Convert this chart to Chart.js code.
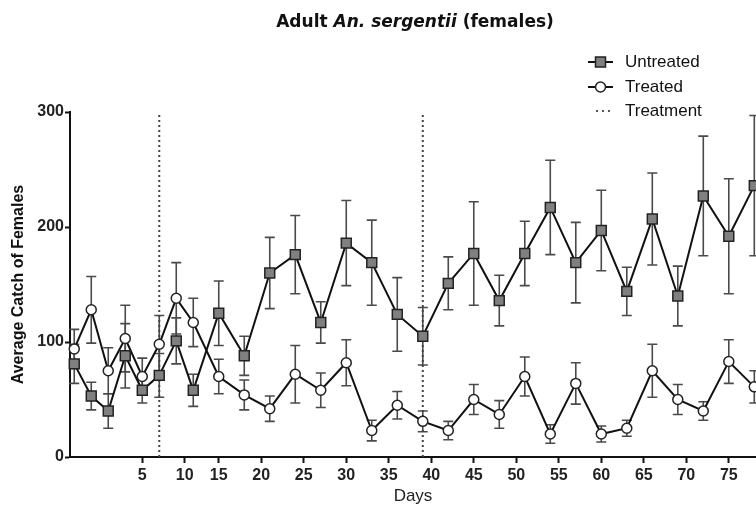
<!DOCTYPE html>
<html lang="en">
  <head>
    <meta charset="UTF-8" />
    <title>Adult An. sergentii (females)</title>
    <script src="https://cdn.jsdelivr.net/npm/chart.js@4.4.0/dist/chart.umd.min.js"></script>
    <style>
      body {
        margin: 0;
        background: #fff;
      }
      #wrap {
        width: 756px;
        height: 508px;
      }
    </style>
  </head>
  <body>
    <div id="wrap">
      <canvas id="myChart" width="756" height="508"></canvas>
    </div>

    <script>
      // sampling days
      const days = [-2, 0, 2, 4, 6, 8, 10, 12, 15, 18, 21, 24, 27, 30, 33, 36, 39, 42, 45, 48, 51, 54, 57, 60, 63, 66, 69, 72, 75, 78];
      // mean catch +/- error
      const untreated = [81, 53, 40, 88, 58, 71, 101, 58, 125, 88, 160, 176, 117, 186, 169, 124, 105, 151, 177, 136, 177, 217, 169, 197, 144, 207, 140, 227, 192, 236];
      const untreatedErr = [17, 12, 15, 28, 11, 19, 20, 14, 28, 17, 31, 34, 18, 37, 37, 32, 25, 23, 45, 22, 28, 41, 35, 35, 21, 40, 26, 52, 50, 61];
      const treated = [94, 128, 75, 103, 70, 98, 138, 117, 70, 54, 42, 72, 58, 82, 23, 45, 31, 23, 50, 37, 70, 20, 64, 20, 25, 75, 50, 40, 83, 61];
      const treatedErr = [17, 29, 20, 29, 16, 25, 31, 21, 15, 13, 11, 25, 15, 20, 9, 12, 9, 8, 13, 12, 17, 8, 18, 7, 7, 23, 13, 8, 19, 14];
      // treatment applied on these days
      const treatmentDays = [8, 39];
      // x axis ticks as printed (first two sit a day late in the original)
      const xTickDays = [6, 11, 15, 20, 25, 30, 35, 40, 45, 50, 55, 60, 65, 70, 75];
      const xTickLabels = ["5", "10", "15", "20", "25", "30", "35", "40", "45", "50", "55", "60", "65", "70", "75"];
      const yTicks = [0, 100, 200, 300];

      const toPoints = (vals) => days.map((d, i) => ({ x: d, y: vals[i] }));

      const treatmentData = [];
      treatmentDays.forEach((d, i) => {
        if (i > 0) treatmentData.push({ x: (d + treatmentDays[i - 1]) / 2, y: null });
        treatmentData.push({ x: d, y: yTicks[0] });
        treatmentData.push({ x: d, y: yTicks[yTicks.length - 1] });
      });

      const errorBars = {
        id: "errorBars",
        beforeDatasetsDraw(chart) {
          const ctx = chart.ctx;
          const xs = chart.scales.x;
          const ys = chart.scales.y;
          const sets = [
            [untreated, untreatedErr],
            [treated, treatedErr],
          ];
          ctx.save();
          ctx.strokeStyle = "#4a4a4a";
          ctx.lineWidth = 1.6;
          sets.forEach(([vals, errs]) => {
            vals.forEach((v, i) => {
              const x = xs.getPixelForValue(days[i]);
              const top = ys.getPixelForValue(v + errs[i]);
              const bot = ys.getPixelForValue(v - errs[i]);
              ctx.beginPath();
              ctx.moveTo(x, top);
              ctx.lineTo(x, bot);
              ctx.moveTo(x - 5, top);
              ctx.lineTo(x + 5, top);
              ctx.moveTo(x - 5, bot);
              ctx.lineTo(x + 5, bot);
              ctx.stroke();
            });
          });
          ctx.restore();
        },
      };

      const titleAndLegend = {
        id: "titleAndLegend",
        afterDraw(chart) {
          const ctx = chart.ctx;
          ctx.save();
          // title with italic species name
          const parts = [
            ["Adult ", "bold 17px 'DejaVu Sans'"],
            ["An. sergentii", "italic bold 17px 'DejaVu Sans'"],
            [" (females)", "bold 17px 'DejaVu Sans'"],
          ];
          let total = 0;
          parts.forEach(([t, f]) => {
            ctx.font = f;
            total += ctx.measureText(t).width;
          });
          let x = 415 - total / 2;
          ctx.fillStyle = "#111";
          ctx.textBaseline = "middle";
          parts.forEach(([t, f]) => {
            ctx.font = f;
            ctx.fillText(t, x, 23);
            x += ctx.measureText(t).width;
          });

          // legend
          const items = chart.data.datasets;
          const rows = [62, 87, 111];
          ctx.font = "17px 'Liberation Sans', Arial, sans-serif";
          items.forEach((ds, i) => {
            const y = rows[i];
            ctx.strokeStyle = "#111";
            ctx.lineWidth = 2;
            if (i === 2) {
              ctx.setLineDash([2, 4]);
              ctx.strokeStyle = "#555";
              ctx.beginPath();
              ctx.moveTo(596, y);
              ctx.lineTo(610, y);
              ctx.stroke();
              ctx.setLineDash([]);
            } else {
              ctx.beginPath();
              ctx.moveTo(588, y);
              ctx.lineTo(613, y);
              ctx.stroke();
              ctx.lineWidth = 1.5;
              ctx.strokeStyle = "#222";
              if (i === 0) {
                ctx.fillStyle = "#808080";
                ctx.fillRect(595.5, y - 5, 10, 10);
                ctx.strokeRect(595.5, y - 5, 10, 10);
              } else {
                ctx.fillStyle = "#fff";
                ctx.beginPath();
                ctx.arc(600.5, y, 5, 0, Math.PI * 2);
                ctx.fill();
                ctx.stroke();
              }
            }
            ctx.fillStyle = "#111";
            ctx.textBaseline = "middle";
            ctx.fillText(ds.label, 625, y);
          });
          ctx.restore();
        },
      };

      const ctx = document.getElementById("myChart").getContext("2d");
      new Chart(ctx, {
        type: "line",
        data: {
          datasets: [
            {
              label: "Untreated",
              data: toPoints(untreated),
              borderColor: "#111",
              borderWidth: 2,
              pointStyle: "rect",
              pointRadius: 7,
              pointBackgroundColor: "#808080",
              pointBorderColor: "#222",
              pointBorderWidth: 1.5,
              tension: 0,
              clip: false,
            },
            {
              label: "Treated",
              data: toPoints(treated),
              borderColor: "#111",
              borderWidth: 2,
              pointStyle: "circle",
              pointRadius: 5,
              pointBackgroundColor: "#fff",
              pointBorderColor: "#222",
              pointBorderWidth: 1.5,
              tension: 0,
              clip: false,
            },
            {
              label: "Treatment",
              data: treatmentData,
              borderColor: "#444",
              borderWidth: 2,
              borderDash: [2, 3],
              pointRadius: 0,
              spanGaps: false,
            },
          ],
        },
        options: {
          responsive: false,
          animation: false,
          layout: {
            autoPadding: false,
            padding: { top: 112, left: 0, right: 0, bottom: 0 },
          },
          plugins: {
            legend: { display: false },
            title: { display: false },
            tooltip: { enabled: false },
          },
          scales: {
            x: {
              type: "linear",
              min: -2.5,
              max: 78.2,
              afterBuildTicks: (axis) => {
                axis.ticks = xTickDays.map((v) => ({ value: v }));
              },
              afterFit: (scale) => {
                scale.height = 51;
              },
              ticks: {
                autoSkip: false,
                maxRotation: 0,
                padding: 3,
                color: "#222",
                font: { family: "'Liberation Sans', Arial, sans-serif", size: 16, weight: "bold" },
                callback: (value, index) => xTickLabels[index],
              },
              grid: {
                drawOnChartArea: false,
                drawTicks: true,
                tickLength: 6,
                tickWidth: 2,
                color: "#111",
              },
              border: { display: true, color: "#111", width: 2 },
              title: {
                display: true,
                text: "Days",
                color: "#222",
                padding: { top: 0, bottom: 1 },
                font: { family: "'Liberation Sans', Arial, sans-serif", size: 17 },
              },
            },
            y: {
              min: 0,
              max: 300,
              afterBuildTicks: (axis) => {
                axis.ticks = yTicks.map((v) => ({ value: v }));
              },
              afterFit: (scale) => {
                scale.width = 70;
              },
              ticks: {
                padding: 1,
                color: "#222",
                font: { family: "'Liberation Sans', Arial, sans-serif", size: 16, weight: "bold" },
              },
              grid: {
                drawOnChartArea: false,
                drawTicks: true,
                tickLength: 5,
                tickWidth: 2,
                color: "#111",
              },
              border: { display: true, color: "#111", width: 2 },
              title: {
                display: true,
                text: "Average Catch of Females",
                color: "#111",
                padding: { top: 9, bottom: 0 },
                font: { family: "'Liberation Sans', Arial, sans-serif", size: 16, weight: "bold" },
              },
            },
          },
        },
        plugins: [errorBars, titleAndLegend],
      });
    </script>
  </body>
</html>
